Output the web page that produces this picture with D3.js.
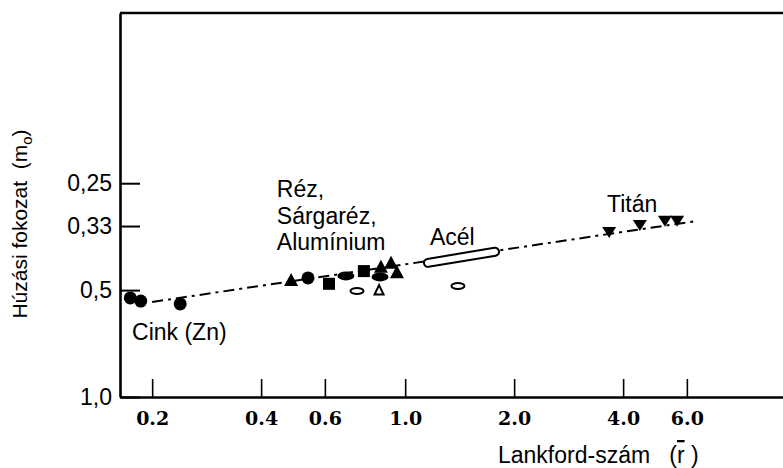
<!DOCTYPE html>
<html>
<head>
<meta charset="utf-8">
<script src="https://cdn.jsdelivr.net/npm/d3@7"></script>
<style>
  body { margin: 0; background: #fff; }
  text { fill: #000; }
</style>
</head>
<body>
<svg id="chart" width="783" height="468"></svg>
<script>
// tick values and labels
var rTicks = [0.2, 0.4, 0.6, 1.0, 2.0, 4.0, 6.0];
var rTickLabels = ["0.2", "0.4", "0.6", "1.0", "2.0", "4.0", "6.0"];
var mTicks = [0.25, 0.33, 0.5, 1.0];
var mTickLabels = ["0,25", "0,33", "0,5", "1,0"];

// Cink (Zn)
var zincR = [0.174, 0.186, 0.239];
var zincM = [0.526, 0.537, 0.547];

// Réz, Sárgaréz, Alumínium (+ open markers)
var cuAlR = [0.484, 0.539, 0.616, 0.686, 0.769, 0.857, 0.914, 0.949, 0.852, 0.736, 0.847, 1.399];
var cuAlM = [0.468, 0.462, 0.480, 0.456, 0.442, 0.430, 0.419, 0.445, 0.459, 0.503, 0.500, 0.487];
var cuAlShape = ["tri", "circle", "square", "ellipse", "square", "tri", "tri", "tri", "ellipse", "ellipseOpen", "triOpen", "ellipseOpen"];

// Acél (band from .. to)
var steelR = [1.156, 1.771];
var steelM = [0.419, 0.390];

// Titán
var titanR = [3.66, 4.45, 5.22, 5.64];
var titanM = [0.343, 0.328, 0.319, 0.319];

// trend line
var trendR = [0.2, 6.3];
var trendM = [0.54, 0.32];

// labels
var noteText = ["Cink (Zn)", "Réz,", "Sárgaréz,", "Alumínium", "Acél", "Titán"];
var noteR = [0.176, 0.442, 0.442, 0.442, 1.171, 3.61];
var noteM = [0.691, 0.273, 0.326, 0.385, 0.373, 0.301];

var svg = d3.select("svg#chart"),
    margin = {top: 13, right: 0, bottom: 71, left: 120},
    width = +svg.attr("width") - margin.left - margin.right,
    height = +svg.attr("height") - margin.top - margin.bottom,
    g = svg.append("g").attr("transform", "translate(" + margin.left + "," + margin.top + ")");

var x = d3.scaleLog().domain([0.163, 11.06]).range([0, width]);
var y = d3.scaleLog().domain([1.0, 0.0829]).range([height, 0]);

var sans = "'Liberation Sans', Arial, sans-serif";

// axes
var xAxis = g.append("g")
    .attr("transform", "translate(0," + height + ")")
    .call(d3.axisBottom(x).tickValues(rTicks)
      .tickFormat(function(d, i) { return rTickLabels[i]; })
      .tickSizeInner(-18).tickSizeOuter(0).tickPadding(15));
xAxis.select(".domain").attr("stroke-width", 2.6);
xAxis.selectAll(".tick line").attr("stroke-width", 1.6);
xAxis.selectAll(".tick text")
    .attr("fill", "#000")
    .style("font", "bold 19px 'DejaVu Serif', serif");

var yAxis = g.append("g")
    .call(d3.axisLeft(y).tickValues(mTicks)
      .tickFormat(function(d, i) { return mTickLabels[i]; })
      .tickSizeInner(-20).tickSizeOuter(0).tickPadding(8));
yAxis.select(".domain").attr("stroke-width", 2.6);
yAxis.selectAll(".tick line").attr("stroke-width", 2);
yAxis.selectAll(".tick text")
    .attr("fill", "#000")
    .style("font", "23px " + sans);

// top border
g.append("line")
    .attr("x1", 0).attr("x2", width)
    .attr("y1", 0).attr("y2", 0)
    .attr("stroke", "#000").attr("stroke-width", 2.6);

// trend line
g.append("line")
    .attr("x1", x(trendR[0])).attr("y1", y(trendM[0]))
    .attr("x2", x(trendR[1])).attr("y2", y(trendM[1]))
    .attr("stroke", "#000").attr("stroke-width", 2)
    .attr("stroke-dasharray", "11,5,3,5");

// Acél capsule
var steelPath = "M" + x(steelR[0]) + "," + y(steelM[0]) + "L" + x(steelR[1]) + "," + y(steelM[1]);
g.append("path").attr("d", steelPath)
    .attr("stroke", "#000").attr("stroke-width", 10).attr("stroke-linecap", "round");
g.append("path").attr("d", steelPath)
    .attr("stroke", "#fff").attr("stroke-width", 6).attr("stroke-linecap", "round");

function drawMark(sel, shape) {
  if (shape == "circle") {
    sel.append("circle").attr("r", 6.5).attr("fill", "#000");
  } else if (shape == "square") {
    sel.append("rect").attr("x", -6).attr("y", -6).attr("width", 12).attr("height", 12).attr("fill", "#000");
  } else if (shape == "tri") {
    sel.append("path").attr("d", "M0,-7L7,6L-7,6Z").attr("fill", "#000");
  } else if (shape == "triOpen") {
    sel.append("path").attr("d", "M0,-5L4.5,4.5L-4.5,4.5Z").attr("fill", "#fff")
      .attr("stroke", "#000").attr("stroke-width", 2);
  } else if (shape == "triDown") {
    sel.append("path").attr("d", "M-7,-5L7,-5L0,6Z").attr("fill", "#000");
  } else if (shape == "ellipse") {
    sel.append("ellipse").attr("rx", 8.5).attr("ry", 4.5).attr("fill", "#000");
  } else if (shape == "ellipseOpen") {
    sel.append("ellipse").attr("rx", 6.5).attr("ry", 3).attr("fill", "#fff")
      .attr("stroke", "#000").attr("stroke-width", 2);
  }
}

var points = [];
zincR.forEach(function(r, i) { points.push({r: r, m: zincM[i], shape: "circle"}); });
cuAlR.forEach(function(r, i) { points.push({r: r, m: cuAlM[i], shape: cuAlShape[i]}); });
titanR.forEach(function(r, i) { points.push({r: r, m: titanM[i], shape: "triDown"}); });

g.selectAll(".pt")
  .data(points)
  .enter().append("g")
    .attr("class", "pt")
    .attr("transform", function(d) { return "translate(" + x(d.r) + "," + y(d.m) + ")"; })
    .each(function(d) { drawMark(d3.select(this), d.shape); });

// annotations
g.selectAll(".note")
  .data(noteText)
  .enter().append("text")
    .attr("class", "note")
    .attr("x", function(d, i) { return x(noteR[i]); })
    .attr("y", function(d, i) { return y(noteM[i]); })
    .style("font", "23px " + sans)
    .text(function(d) { return d; });

// axis titles
var xTitle = svg.append("text")
    .attr("x", 498).attr("y", 463)
    .style("font", "23px " + sans)
    .style("white-space", "pre");
xTitle.append("tspan").text("Lankford-szám   (");
xTitle.append("tspan").style("text-decoration", "overline").text("r");
xTitle.append("tspan").text(" )");

var yTitle = svg.append("text")
    .attr("transform", "translate(27,224) rotate(-90)")
    .attr("text-anchor", "middle")
    .style("font", "21px " + sans)
    .style("white-space", "pre");
yTitle.append("tspan").text("Húzási fokozat  (m");
yTitle.append("tspan").attr("dy", 5).style("font-size", "15px").text("o");
yTitle.append("tspan").attr("dy", -5).text(")");
</script>
</body>
</html>
